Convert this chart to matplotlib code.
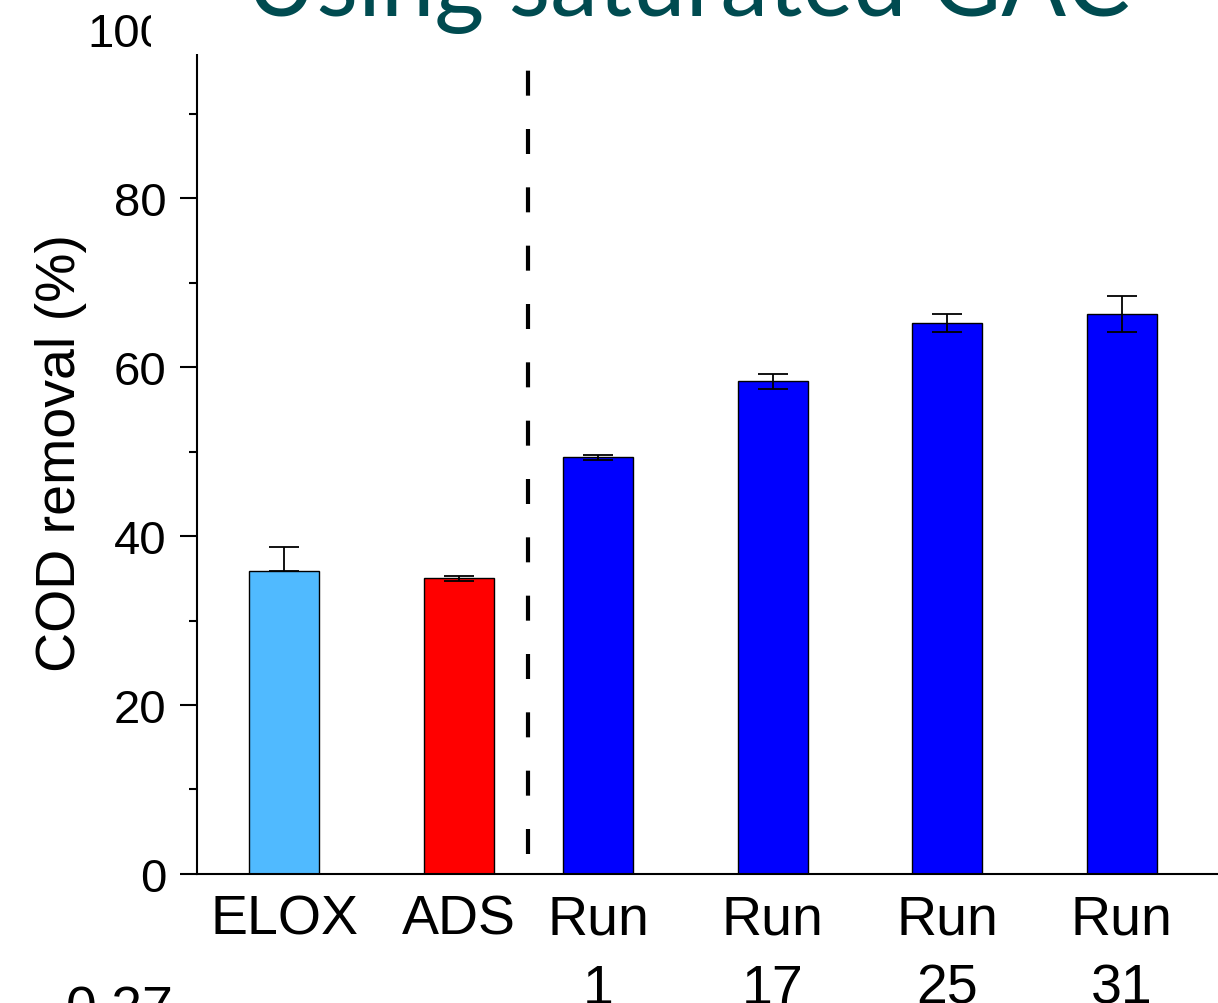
import matplotlib.pyplot as plt
from matplotlib.patches import Rectangle
from matplotlib.ticker import MultipleLocator

# Data
labels = ["ELOX", "ADS", "Run\n1", "Run\n17", "Run\n25", "Run\n31"]
removal = [35.9, 35.0, 49.3, 58.3, 65.2, 66.3]
err_low = [0.0, 0.3, 0.35, 0.9, 1.1, 2.1]
err_high = [2.8, 0.3, 0.35, 0.9, 1.1, 2.1]
colors_bar = ["#50BAFF", "#FF0000", "#0000FF", "#0000FF", "#0000FF", "#0000FF"]
positions = [0, 1, 1.8, 2.8, 3.8, 4.8]

plt.rcParams["font.family"] = ["Liberation Sans", "DejaVu Sans"]

fig = plt.figure(figsize=(12.18, 10.04), dpi=100)
ax = fig.add_axes([0.1617, 0.1285, 0.8383, 0.8415])

ax.bar(positions, removal, width=0.4, color=colors_bar,
       edgecolor="black", linewidth=1.0, zorder=2)
ax.errorbar(positions, removal, yerr=[err_low, err_high], fmt="none",
            ecolor="black", elinewidth=1.3, capsize=11, capthick=1.3, zorder=3)

ax.vlines(1.4, 2.4, 100, colors="black", linestyles=(0, (6, 8)),
          linewidth=3, zorder=1)

ax.set_xlim(-0.5, 5.352)
ax.set_ylim(0, 100)
ax.yaxis.set_major_locator(MultipleLocator(20))
ax.yaxis.set_minor_locator(MultipleLocator(10))
ax.set_xticks(positions)
ax.set_xticklabels(labels, fontsize=40, linespacing=1.43)

for side in ("top", "right"):
    ax.spines[side].set_visible(False)
for side in ("left", "bottom"):
    ax.spines[side].set_linewidth(1.5)

ax.tick_params(axis="y", which="major", direction="out", length=12,
               width=1.5, labelsize=34, pad=10)
ax.tick_params(axis="y", which="minor", direction="out", length=6, width=1.5)
ax.tick_params(axis="x", length=0, pad=14)
ax.set_ylabel("COD removal (%)", fontsize=40, labelpad=0)

# white title box covering the top of the axes
fig.add_artist(Rectangle((151 / 1218, 1 - 55 / 1004), 1, 55 / 1004,
                         transform=fig.transFigure, facecolor="white",
                         edgecolor="none", zorder=5))
fig.text(688 / 1218, 1 - 16 / 1004, "Using saturated GAC", ha="center",
         va="baseline", fontsize=69, color="#004B50", family="Lato", zorder=6)

fig.text(120 / 1218, 1 - 985 / 1004, "0.27", ha="center", va="top",
         fontsize=40)

fig.savefig("out.png", dpi=100)
